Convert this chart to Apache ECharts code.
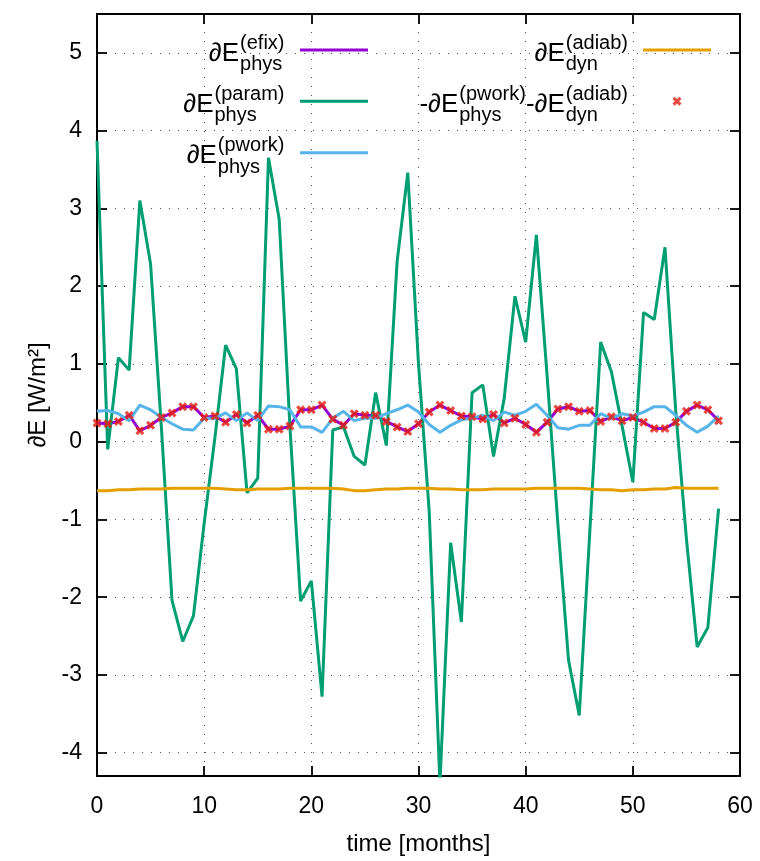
<!DOCTYPE html>
<html>
<head>
<meta charset="utf-8">
<script src="https://cdn.jsdelivr.net/npm/echarts@6/dist/echarts.min.js"></script>
<style>
html,body{margin:0;padding:0;background:#fff;}
#c{width:760px;height:861px;}
</style>
</head>
<body>
<div id="c"></div>
<script>
// ---------- data ----------
const months = [0,1,2,3,4,5,6,7,8,9,10,11,12,13,14,15,16,17,18,19,20,21,22,23,24,25,26,27,28,29,
                30,31,32,33,34,35,36,37,38,39,40,41,42,43,44,45,46,47,48,49,50,51,52,53,54,55,56,57,58];

const efixPhys = [0.24,0.23,0.26,0.34,0.14,0.21,0.31,0.37,0.45,0.45,0.31,0.33,0.25,0.35,0.24,0.34,0.16,0.16,0.20,0.41,
                  0.41,0.47,0.29,0.21,0.36,0.34,0.34,0.26,0.19,0.13,0.23,0.38,0.47,0.40,0.33,0.32,0.29,0.35,0.24,0.30,
                  0.22,0.12,0.25,0.42,0.45,0.39,0.40,0.26,0.32,0.27,0.31,0.25,0.17,0.17,0.25,0.39,0.47,0.41,0.27];

const paramPhys = [3.87,-0.10,1.08,0.92,3.10,2.28,0.20,-2.04,-2.57,-2.24,-1.05,0.05,1.24,0.94,-0.66,-0.47,3.65,2.86,0.20,-2.05,
                   -1.79,-3.28,0.15,0.19,-0.19,-0.30,0.63,-0.05,2.31,3.46,1.00,-0.90,-4.40,-1.30,-2.32,0.63,0.73,-0.19,0.56,1.87,
                   1.28,2.66,0.85,-1.05,-2.81,-3.52,-1.12,1.28,0.90,0.20,-0.52,1.66,1.57,2.50,0.40,-1.25,-2.64,-2.39,-0.86];

const pworkPhys = [0.39,0.40,0.36,0.27,0.47,0.41,0.31,0.23,0.16,0.15,0.30,0.30,0.37,0.27,0.37,0.27,0.46,0.45,0.41,0.19,
                   0.19,0.12,0.30,0.39,0.27,0.30,0.30,0.36,0.41,0.47,0.38,0.22,0.12,0.21,0.28,0.30,0.34,0.27,0.38,0.34,
                   0.39,0.48,0.34,0.18,0.16,0.21,0.21,0.36,0.30,0.36,0.33,0.38,0.45,0.45,0.34,0.21,0.12,0.20,0.33];

const adiabDyn = [-0.63,-0.63,-0.62,-0.62,-0.61,-0.61,-0.61,-0.60,-0.60,-0.60,-0.60,-0.60,-0.61,-0.62,-0.62,-0.61,-0.61,-0.61,-0.60,-0.60,
                  -0.60,-0.60,-0.60,-0.61,-0.63,-0.63,-0.62,-0.61,-0.61,-0.60,-0.60,-0.60,-0.61,-0.61,-0.62,-0.62,-0.62,-0.61,-0.61,-0.61,
                  -0.61,-0.60,-0.60,-0.60,-0.60,-0.60,-0.61,-0.62,-0.62,-0.63,-0.62,-0.62,-0.61,-0.61,-0.59,-0.60,-0.60,-0.60,-0.60];

// -dE_phys^(pwork) - dE_dyn^(adiab) (red crosses)
const residual = [0.24,0.23,0.26,0.34,0.14,0.21,0.31,0.37,0.45,0.45,0.31,0.33,0.25,0.35,0.24,0.34,0.16,0.16,0.20,0.41,
                  0.41,0.47,0.29,0.21,0.36,0.34,0.34,0.26,0.19,0.13,0.23,0.38,0.47,0.40,0.33,0.32,0.29,0.35,0.24,0.30,
                  0.22,0.12,0.25,0.42,0.45,0.39,0.40,0.26,0.32,0.27,0.31,0.25,0.17,0.17,0.25,0.39,0.47,0.41,0.27];

const xTicks = [0,10,20,30,40,50,60];
const yRange = [-4.3, 5.5];

const legendText = {
  efix:  [{m:'∂E', sup:'(efix)',  sub:'phys'}],
  param: [{m:'∂E', sup:'(param)', sub:'phys'}],
  pwork: [{m:'∂E', sup:'(pwork)', sub:'phys'}],
  adiab: [{m:'∂E', sup:'(adiab)', sub:'dyn'}],
  resid: [{m:'-∂E', sup:'(pwork)', sub:'phys'}, {m:'-∂E', sup:'(adiab)', sub:'dyn'}]
};

// ---------- styling ----------
const FONT = '"Liberation Sans", Arial, Helvetica, sans-serif';
const C = {efix:'#9400d3', param:'#009e73', pwork:'#56b4e9', adiab:'#e69f00', resid:'#e51e10'};
const LW = 3;
const CROSS = 'path://M0.25,0 L0.5,0.25 L0.75,0 L1,0.25 L0.75,0.5 L1,0.75 L0.75,1 L0.5,0.75 L0.25,1 L0,0.75 L0.25,0.5 L0,0.25 Z';

const pair = arr => months.map((m, i) => [m, arr[i]]);

const mctx = document.createElement('canvas').getContext('2d');
function measure(t, size) { mctx.font = size + 'px ' + FONT; return mctx.measureText(t).width; }
function txt(t, x, y, size, align) {
  return {type:'text', x:x, y:y, silent:true, z:100,
          style:{text:t, font: size + 'px ' + FONT, fill:'#000', textAlign:align,
                 textVerticalAlign:'middle', verticalAlign:'middle'}};
}
function entry(segs, rightX, lineY) {
  const els = []; let cur = rightX;
  for (let i = segs.length - 1; i >= 0; i--) {
    const s = segs[i];
    const ws = Math.max(measure(s.sup, 20), measure(s.sub, 20));
    const sl = cur - ws;
    els.push(txt(s.sup, sl, lineY - 7, 20, 'left'));
    els.push(txt(s.sub, sl, lineY + 14.5, 20, 'left'));
    els.push(txt(s.m, sl - 1, lineY + 3.5, 26, 'right'));
    cur = sl - 1 - measure(s.m, 26);
  }
  return els;
}

const graphics = [].concat(
  entry(legendText.efix, 284.5, 50),
  entry(legendText.param, 284.5, 101.3),
  entry(legendText.pwork, 284.5, 152.7),
  entry(legendText.adiab, 628, 50),
  entry(legendText.resid, 628, 101.3)
);

function legendLine(name, left, cy) {
  return {data:[{name:name, icon:'rect'}], left:left, top:cy - LW/2, itemWidth:68, itemHeight:LW,
          padding:0, itemGap:0, selectedMode:false, formatter: () => '', textStyle:{fontSize:1}};
}

const axisCommonX = {
  type:'value', min:xTicks[0], max:xTicks[xTicks.length-1], interval:10,
  axisLine:{show:true, onZero:false, lineStyle:{color:'#000', width:2}},
  axisTick:{show:true, inside:true, length:10, lineStyle:{color:'#000', width:1.8}},
};
const axisCommonY = {
  type:'value', min:yRange[0], max:yRange[1], splitNumber:10,
  axisLine:{show:true, onZero:false, lineStyle:{color:'#000', width:2}},
  axisTick:{show:true, inside:true, length:10, lineStyle:{color:'#000', width:1.8}},
};
const gridLine = {show:true, lineStyle:{type:[1,8], color:'#555', width:1}};

const option = {
  animation:false,
  backgroundColor:'#fff',
  grid:{left:97, right:20, top:14, bottom:83, containLabel:false},
  xAxis:[
    Object.assign({}, axisCommonX, {
      position:'bottom',
      axisLabel:{color:'#000', fontFamily:FONT, fontSize:23, margin:19},
      splitLine:gridLine,
      name:'time [months]', nameLocation:'middle', nameGap:56,
      nameTextStyle:{color:'#000', fontFamily:FONT, fontSize:24}
    }),
    Object.assign({}, axisCommonX, {position:'top', axisLabel:{show:false}, splitLine:{show:false}})
  ],
  yAxis:[
    Object.assign({}, axisCommonY, {
      position:'left',
      axisLabel:{color:'#000', fontFamily:FONT, fontSize:23, margin:15, showMinLabel:false, showMaxLabel:false},
      splitLine:gridLine,
      name:'∂E [W/m²]', nameLocation:'middle', nameGap:46,
      nameTextStyle:{color:'#000', fontFamily:FONT, fontSize:24}
    }),
    Object.assign({}, axisCommonY, {position:'right', axisLabel:{show:false}, splitLine:{show:false}})
  ],
  legend:[
    legendLine('efix', 300, 50),
    legendLine('param', 300, 101.3),
    legendLine('pwork', 300, 152.7),
    legendLine('adiab', 643, 50),
    {data:[{name:'resid', icon:CROSS}], left:672.5, top:101.3 - 4.5, itemWidth:9, itemHeight:9,
     padding:0, itemGap:0, selectedMode:false, formatter: () => '', textStyle:{fontSize:1}}
  ],
  graphic: graphics,
  series:[
    {name:'efix', type:'line', data:pair(efixPhys), showSymbol:false, symbol:'none',
     lineStyle:{color:C.efix, width:LW}, itemStyle:{color:C.efix}, z:2},
    {name:'param', type:'line', data:pair(paramPhys), showSymbol:false, symbol:'none',
     lineStyle:{color:C.param, width:LW}, itemStyle:{color:C.param}, z:3},
    {name:'pwork', type:'line', data:pair(pworkPhys), showSymbol:false, symbol:'none',
     lineStyle:{color:C.pwork, width:LW}, itemStyle:{color:C.pwork}, z:4},
    {name:'adiab', type:'line', data:pair(adiabDyn), showSymbol:false, symbol:'none',
     lineStyle:{color:C.adiab, width:LW}, itemStyle:{color:C.adiab}, z:5},
    {name:'resid', type:'scatter', data:pair(residual), symbol:CROSS,
     symbolSize:9, itemStyle:{color:C.resid}, z:6}
  ]
};
const chart = echarts.init(document.getElementById('c'));
chart.setOption(option);
</script>
</body>
</html>
